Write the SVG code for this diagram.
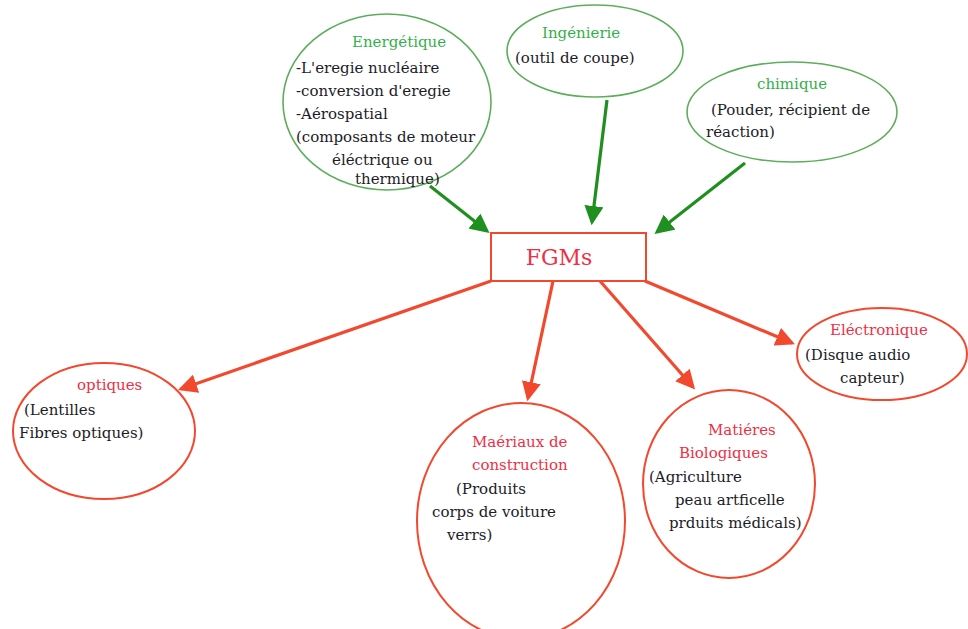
<svg xmlns="http://www.w3.org/2000/svg" width="968" height="629" viewBox="0 0 968 629">
<style>
.bg{fill:#ffffff}
.eg{fill:none;stroke:#5cae5c;stroke-width:1.6}
.er{fill:none;stroke:#f2492e;stroke-width:2}
.box{fill:#ffffff;stroke:#f2492e;stroke-width:2}
text{font-family:"DejaVu Serif","Liberation Serif",serif;font-size:15px;fill:#1c1c28}
.tg{fill:#33b04a}
.tr{fill:#ee2f45}
.big{font-size:22px}
.ag{stroke:#1f8f1f;stroke-width:3.2;fill:none}
.ar{stroke:#f2492e;stroke-width:3.2;fill:none}
</style>
<defs>
<marker id="mg" markerWidth="6" markerHeight="6" refX="5" refY="3" orient="auto" markerUnits="strokeWidth">
<path d="M0,0 L6,3 L0,6 Z" fill="#1f8f1f"/>
</marker>
<marker id="mr" markerWidth="6" markerHeight="6" refX="5" refY="3" orient="auto" markerUnits="strokeWidth">
<path d="M0,0 L6,3 L0,6 Z" fill="#f2492e"/>
</marker>
</defs>
<rect class="bg" x="0" y="0" width="968" height="629"/>
<g id="connectors">
<line class="ag" x1="430" y1="186" x2="487" y2="231" marker-end="url(#mg)"/>
<line class="ag" x1="607" y1="100" x2="592" y2="222" marker-end="url(#mg)"/>
<line class="ag" x1="745" y1="163" x2="657" y2="232" marker-end="url(#mg)"/>
<line class="ar" x1="491" y1="281" x2="181" y2="389" marker-end="url(#mr)"/>
<line class="ar" x1="553" y1="281" x2="528" y2="398" marker-end="url(#mr)"/>
<line class="ar" x1="600" y1="281" x2="693" y2="387" marker-end="url(#mr)"/>
<line class="ar" x1="645" y1="281" x2="792" y2="343" marker-end="url(#mr)"/>
</g>
<g id="energetique">
<ellipse class="eg" cx="387" cy="102" rx="104" ry="88"/>
<text class="tg" x="352" y="47">Energétique</text>
<text x="296" y="73">-L'eregie nucléaire</text>
<text x="296" y="96">-conversion d'eregie</text>
<text x="296" y="119">-Aérospatial</text>
<text x="296" y="142">(composants de moteur</text>
<text x="332" y="165">éléctrique ou</text>
<text x="355" y="184">thermique)</text>
</g>
<g id="ingenierie">
<ellipse class="eg" cx="595" cy="51" rx="88" ry="46"/>
<text class="tg" x="542" y="38">Ingénierie</text>
<text x="515" y="63">(outil de coupe)</text>
</g>
<g id="chimique">
<ellipse class="eg" cx="792" cy="112" rx="105" ry="50"/>
<text class="tg" x="757" y="89">chimique</text>
<text x="711" y="115">(Pouder, récipient de</text>
<text x="706" y="137">réaction)</text>
</g>
<g id="fgms">
<rect class="box" x="491" y="233" width="155" height="48"/>
<text class="tr big" x="559" y="265" text-anchor="middle">FGMs</text>
</g>
<g id="optiques">
<ellipse class="er" cx="104" cy="431" rx="91" ry="68"/>
<text class="tr" x="77" y="390">optiques</text>
<text x="24" y="415">(Lentilles</text>
<text x="19" y="438">Fibres optiques)</text>
</g>
<g id="materiaux">
<ellipse class="er" cx="521" cy="521" rx="104" ry="118"/>
<text class="tr" x="472" y="447">Maériaux de</text>
<text class="tr" x="472" y="470">construction</text>
<text x="456" y="494">(Produits</text>
<text x="432" y="517">corps de voiture</text>
<text x="447" y="540">verrs)</text>
</g>
<g id="biologiques">
<ellipse class="er" cx="729" cy="484" rx="86" ry="94"/>
<text class="tr" x="708" y="435">Matiéres</text>
<text class="tr" x="679" y="458">Biologiques</text>
<text x="649" y="482">(Agriculture</text>
<text x="675" y="505">peau artficelle</text>
<text x="669" y="528">prduits médicals)</text>
</g>
<g id="electronique">
<ellipse class="er" cx="882" cy="354" rx="85" ry="46"/>
<text class="tr" x="830" y="335">Eléctronique</text>
<text x="805" y="360">(Disque audio</text>
<text x="840" y="383">capteur)</text>
</g>
</svg>
